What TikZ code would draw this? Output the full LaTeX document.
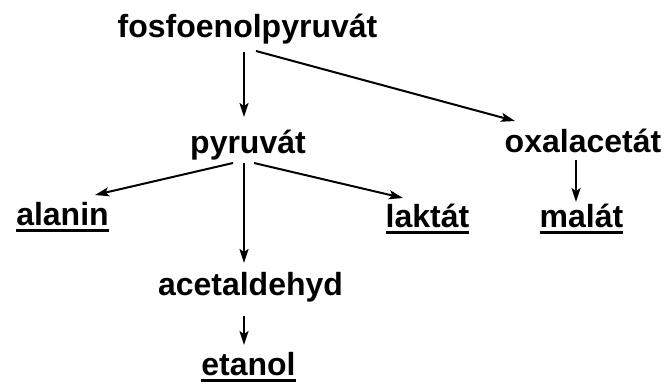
\documentclass[tikz,border=0pt]{standalone}
\usepackage{fontspec}
\setmainfont{Liberation Sans}
\usetikzlibrary{arrows.meta,calc}
\newcommand\myul[1]{\setbox0\hbox{#1}\rlap{\rule[-7pt]{\wd0}{3pt}}\box0}
\begin{document}
\begin{tikzpicture}[x=1pt,y=-1pt,
  lbl/.style={anchor=base,inner sep=0pt,font=\fontsize{32}{36}\selectfont\bfseries},
  arr/.style={line width=2pt,-{Stealth[length=14pt,width=9pt,inset=3pt]}}]
\useasboundingbox (0,0) rectangle (666,383);
\node[lbl] (fos) at (247.5,37) {fosfoenolpyruvát};
\node[lbl] (pyr) at (248,153) {pyruvát};
\node[lbl] (oxa) at (583,152) {oxalacetát};
\node[lbl] (ala) at (62.5,225) {\myul{alanin}};
\node[lbl] (lak) at (427.5,227) {\myul{laktát}};
\node[lbl] (mal) at (581.5,227) {\myul{malát}};
\node[lbl] (ace) at (250.5,295) {acetaldehyd};
\node[lbl] (eta) at (248.5,375) {\myul{etanol}};
\draw[arr] ($(fos.base)+(-3.5,15)$) -- ($(pyr.base)+(-4,-36)$);
\draw[arr] ($(fos.base)+(8.5,14)$) -- ($(oxa.base)+(-68,-31)$);
\draw[arr] ($(pyr.base)+(-15,10)$) -- ($(ala.base)+(32.5,-30)$);
\draw[arr] ($(pyr.base)+(6,10)$) -- ($(lak.base)+(-24.5,-29)$);
\draw[arr] ($(pyr.base)+(-4,10)$) -- ($(ace.base)+(-6.5,-32)$);
\draw[arr] ($(ace.base)+(-6.5,21)$) -- ($(eta.base)+(-4.5,-30)$);
\draw[arr] ($(oxa.base)+(-7,8)$) -- ($(mal.base)+(-5.5,-25)$);
\end{tikzpicture}
\end{document}
